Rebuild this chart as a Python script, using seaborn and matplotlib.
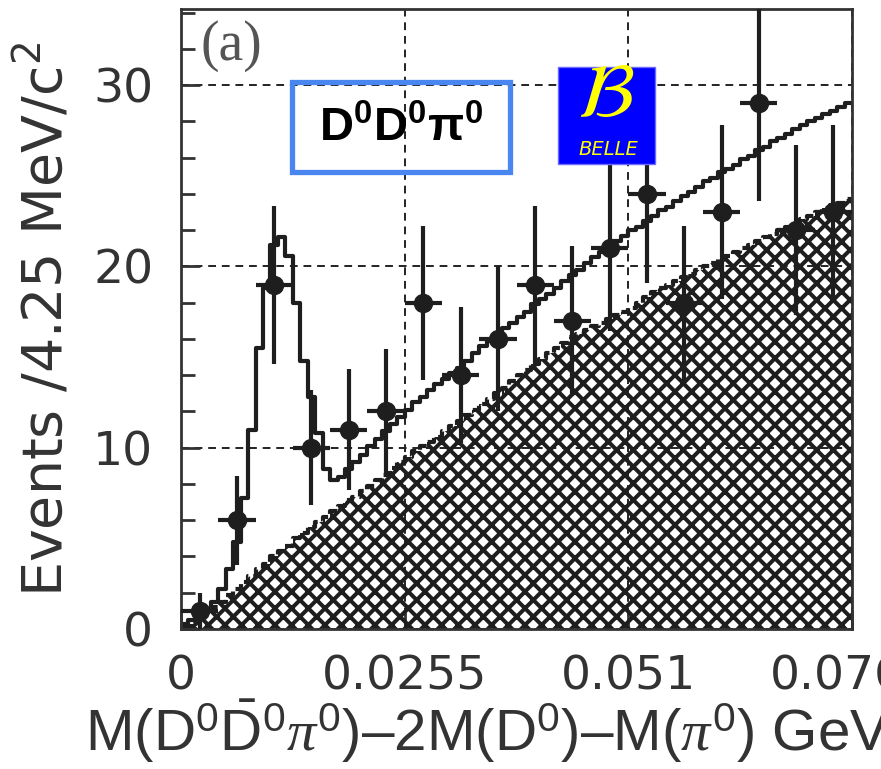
import numpy as np
import matplotlib
matplotlib.use("Agg")
import matplotlib.pyplot as plt
import seaborn as sns
from matplotlib.patches import Rectangle
from matplotlib.ticker import MultipleLocator

# data: events per 4.25 MeV bin
bin_width = 0.00425
counts = [1, 6, 19, 10, 11, 12, 18, 14, 16, 19, 17, 21, 24, 18, 23, 29, 22, 23]

# fit curves in steps of 0.85 MeV
fit_step = 0.00085
fit_total = [0.3, 0.5, 0.8, 1.1, 1.5, 2.2, 3.3, 4.8, 7.2, 11.0,
             15.5, 18.8, 21.2, 21.6, 20.6, 18.0, 14.8, 12.8, 10.8, 8.8,
             8.2, 8.4, 8.8, 9.2, 9.6, 10.1, 10.5, 10.9, 11.3, 11.7,
             12.1, 12.5, 12.8, 13.2, 13.5, 13.8, 14.1, 14.4, 14.8, 15.2,
             15.6, 15.9, 16.3, 16.6, 16.9, 17.2, 17.5, 17.9, 18.2, 18.5,
             18.8, 19.2, 19.5, 19.8, 20.2, 20.5, 20.8, 21.1, 21.4, 21.7,
             22.0, 22.2, 22.5, 22.8, 23.1, 23.3, 23.6, 23.9, 24.1, 24.4,
             24.7, 24.9, 25.2, 25.4, 25.6, 25.9, 26.1, 26.4, 26.6, 26.9,
             27.1, 27.3, 27.6, 27.8, 28.0, 28.2, 28.4, 28.6, 28.8, 29.0]
fit_bkg = [0.1, 0.3, 0.6, 0.9, 1.2, 1.5, 1.9, 2.2, 2.6, 2.9,
           3.3, 3.6, 4.0, 4.3, 4.6, 5.0, 5.3, 5.6, 5.9, 6.2,
           6.5, 6.8, 7.1, 7.3, 7.6, 7.9, 8.2, 8.5, 8.9, 9.2,
           9.5, 9.8, 10.1, 10.3, 10.6, 10.9, 11.2, 11.5, 11.8, 12.1,
           12.4, 12.7, 13.0, 13.3, 13.7, 14.0, 14.3, 14.6, 14.9, 15.2,
           15.5, 15.8, 16.1, 16.3, 16.5, 16.7, 16.9, 17.1, 17.3, 17.5,
           17.7, 18.0, 18.3, 18.6, 18.8, 19.0, 19.2, 19.4, 19.6, 19.8,
           20.0, 20.2, 20.4, 20.6, 20.8, 21.0, 21.2, 21.4, 21.6, 21.8,
           22.0, 22.2, 22.4, 22.6, 22.8, 23.0, 23.2, 23.4, 23.5, 23.7]

x_ticks = [0, 0.0255, 0.051, 0.0765]
x_tick_labels = ["0", "0.0255", "0.051", "0.0765"]
y_ticks = [0, 10, 20, 30]

sns.set_theme(style="ticks")
plt.rcParams["font.family"] = ["DejaVu Sans"]
plt.rcParams["mathtext.fontset"] = "custom"
plt.rcParams["mathtext.rm"] = "Liberation Sans"
plt.rcParams["mathtext.bf"] = "Liberation Sans:bold"
plt.rcParams["mathtext.it"] = "Liberation Serif:italic"
plt.rcParams["hatch.linewidth"] = 2.9

counts = np.array(counts)
centers = (np.arange(len(counts)) + 0.5) * bin_width
edges = np.arange(len(fit_total) + 1) * fit_step
total_ext = fit_total + fit_total[-1:]
bkg_ext = fit_bkg + fit_bkg[-1:]

fig = plt.figure(figsize=(8.81, 7.69), dpi=100)
ax = fig.add_axes([181 / 881, 140 / 769, 671 / 881, 620 / 769])

# hatched background
ax.fill_between(edges, 0, bkg_ext, step="post", facecolor="none",
                edgecolor="#1e1e1e", hatch="xx", linewidth=0, zorder=1)
sns.lineplot(x=edges, y=bkg_ext, drawstyle="steps-post", color="#1e1e1e",
             lw=3, linestyle=(0, (2.5, 1.2)), ax=ax, zorder=2)
sns.lineplot(x=edges, y=total_ext, drawstyle="steps-post", color="#1e1e1e",
             lw=3, ax=ax, zorder=2)

ax.errorbar(centers, counts, yerr=np.sqrt(counts), xerr=bin_width / 2,
            fmt="o", ms=13, color="#1e1e1e", elinewidth=3, capsize=0, zorder=3)

ax.set_xlim(0, 0.0765)
ax.set_ylim(0, 34.2)
ax.set_xticks(x_ticks, x_tick_labels)
ax.set_yticks(y_ticks)
ax.yaxis.set_minor_locator(MultipleLocator(2))
ax.grid(True, which="major", linestyle=(0, (4, 3)), color="#222222", lw=1.4, zorder=0)
ax.set_axisbelow(True)

ax.tick_params(axis="both", which="major", direction="in", length=14, width=2,
               labelsize=34, labelcolor="#333333", color="#333333")
ax.tick_params(axis="y", which="major", pad=20)
ax.tick_params(axis="x", which="major", pad=18)
ax.tick_params(axis="y", which="minor", direction="in", length=10, width=2,
               color="#333333")
for sp in ax.spines.values():
    sp.set_linewidth(2)
    sp.set_color("#333333")

ax.set_ylabel("Events /4.25 MeV/c$^2$", fontsize=40, color="#333333",
              math_fontfamily="dejavusans")
ax.yaxis.set_label_coords(-0.158, 0.5)
ax.set_xlabel(r"M(D$^0\bar{\mathrm{D}}^0\pi^0$)–2M(D$^0$)–M($\pi^0$) GeV/c$^2$",
              fontsize=42, color="#333333", family=["Liberation Sans"])
ax.xaxis.label.set_ha("left")
ax.xaxis.set_label_coords((85 - 181) / 671, -0.112)

# panel tag
ax.text(0.075, 0.94, "(a)", transform=ax.transAxes, fontsize=40,
        family=["Liberation Serif"], color="#555555", ha="center", va="center")

# channel box
ax.add_patch(Rectangle((0.165, 0.737), 0.326, 0.145, transform=ax.transAxes,
                       fill=False, edgecolor="#4a86f0", lw=3.8, zorder=4))
ax.text(0.328, 0.807, r"$\mathbf{D^0D^0\pi^0}$", transform=ax.transAxes,
        fontsize=34, color="black", ha="center", va="center", zorder=5)

# Belle logo
ax.add_patch(Rectangle((0.562, 0.75), 0.1445, 0.156, transform=ax.transAxes,
                       facecolor="#0000ff", edgecolor="#6a6aff", lw=1, zorder=4))
ax.text(0.633, 0.862, r"$\mathcal{B}$", transform=ax.transAxes, fontsize=56,
        color="#ffff00", ha="center", va="center", zorder=5,
        math_fontfamily="dejavusans")
ax.text(0.637, 0.774, "BELLE", transform=ax.transAxes, fontsize=14,
        style="italic", color="#ffff00", ha="center", va="center", zorder=5)

fig.savefig("out.png", dpi=100)
